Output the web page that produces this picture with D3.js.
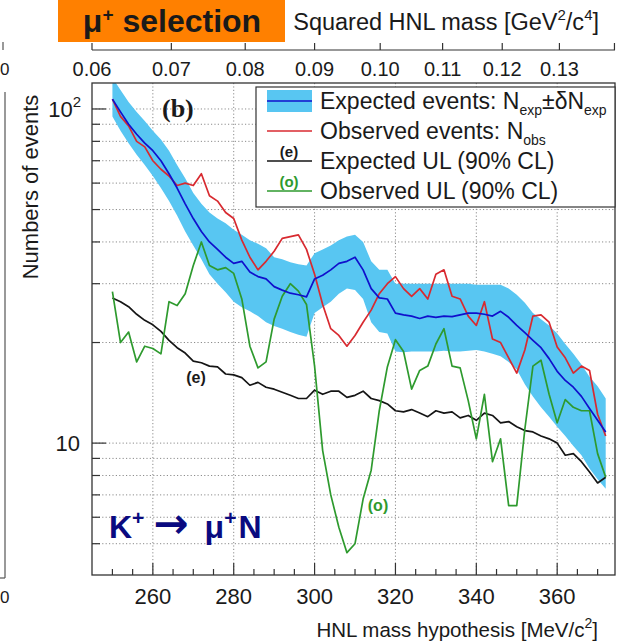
<!DOCTYPE html>
<html>
<head>
<meta charset="utf-8">
<script src="https://cdn.jsdelivr.net/npm/d3@7"></script>
<style>
  body { margin: 0; background: #fff; }
  svg { display: block; }
  text { font-family: "Liberation Sans", Arial, Helvetica, sans-serif; fill: #1a1a1a; }
  .grid line { stroke: #8c8c8c; stroke-width: 1; stroke-dasharray: 1.2 2.2; }
  .tick-mark { stroke: #333; stroke-width: 1.2; }
  .curve { fill: none; stroke-width: 1.7; stroke-linejoin: round; }
</style>
</head>
<body>
<script>
// HNL mass points (MeV/c^2)
const mass = [250,252,254,256,258,260,262,264,266,268,270,272,274,276,278,280,282,284,286,288,
  290,292,294,296,298,300,302,304,306,308,310,312,314,316,318,320,322,324,326,328,
  330,332,334,336,338,340,342,344,346,348,350,352,354,356,358,360,362,364,366,368,370,372];

// expected number of events N_exp and its +/- band
const nExp = [107,98,90,84,79,75,70,64,58,52,47,43,40,38,36,34.5,35,32.5,31.5,31,
  29.4,28.7,28.1,27.8,27.4,31,31.8,33,34.5,35,36,33,29,27.2,27,24.5,24.2,24,23.6,24,
  23.8,24,23.9,24.2,24.5,24.5,24.3,24,24.8,23.8,22.5,21.4,20.3,19.3,17.9,16.4,15.4,14.7,13.8,12.7,11.7,10.8];
const nExpHi = [124,114,105,98,92,86,81,75,68,62,56,52,49,47,45.5,43.5,42,40.5,39.5,38.3,
  36,35.5,34.8,34.3,34,37,38,39,40.5,41.5,42,40,35,33,33,30,30,30,30,30,
  30,30,30,30,30,29.8,29.8,29.8,29.8,29,27.8,26.3,24.5,23.5,22.5,21.3,19.8,18.5,17.2,15.8,14.8,13.6];
const nExpLo = [95,86,79,73,68,63,58,53,48,43,39,35.5,32,30,28.3,26.5,25.5,24.8,24,23,
  22.4,22,21.5,21.1,20.8,24.5,25.5,26.5,28,29,28.7,27,23,21.5,21.3,18.8,18.7,18.8,18.8,18.8,
  18.8,18.9,18.8,18.8,18.9,19,18.8,18.5,18.2,17.5,16.6,15,13.8,12.8,12,11.2,10.5,9.8,9.2,8.4,7.8,7.3];

// observed number of events N_obs
const nObs = [107,95,89,80,77,70,66,63,59,60,59,64,55,53,49,47,40.5,36,33,35,
  37.5,41,41.5,42,38,32,26,22,21,19.5,21,23,25,28,30,31.5,29,27.5,29,27,
  32,33,27.5,27,24,22.5,26.5,20.5,20,18,16.2,19,24,24.2,23,19.4,18,16.2,17,16.5,12.2,10.5];

// expected and observed upper limits, 90% CL
const ulExp = [27.2,26.5,25.6,24.3,23.3,22.6,21.6,20.3,19.3,18.6,17.6,17.4,17,16.9,16.1,16,15.7,14.9,15.2,14.7,
  14.5,14.2,13.9,13.6,13.6,14.4,14,14.3,14.3,13.7,13.9,14.3,13.6,13.4,13.1,12.5,12.4,12.6,12.3,12,
  12.5,12.3,12.4,11.9,12.1,11.7,12.3,12.1,11.5,11.6,11.2,10.9,10.8,10.5,10.3,10,9.2,9.3,8.8,8.2,7.6,7.9];
const ulObs = [28.4,20,21.5,17.5,19.5,19.2,18.5,26.5,25.8,28,34,40,34,33,33.5,32.2,27,19.5,16.8,17.5,
  23.5,27.5,30,28.5,26,17,9.5,7,5.6,4.7,5,6.8,8.3,12.5,16.9,20.4,18.8,14.5,16.5,17,
  19.8,22,17,16.8,13.4,10.3,14,8.8,10.3,6.5,6.5,11,17,17.7,14,11.5,13.5,12.8,12.5,12.5,9.3,7.9];

// axis ticks
const xMajor = [260,280,300,320,340,360];
const xMinor = [250,255,260,265,270,275,280,285,290,295,300,305,310,315,320,325,330,335,340,345,350,355,360,365,370];
const yGrid = [5,6,7,8,9,10,20,30,40,50,60,70,80,90,100];
const m2Ticks = [0.06,0.07,0.08,0.09,0.10,0.11,0.12,0.13,0.14];
const m2Labels = ["0.06","0.07","0.08","0.09","0.10","0.11","0.12","0.13"];

const colBand = "#58c6f2", colExp = "#1010cc", colObs = "#d82a30",
      colUlExp = "#151515", colUlObs = "#2e9a2e";

const W = 618, H = 641;
const pL = 92, pR = 615, pT = 83, pB = 575;

const svg = d3.select("body").append("svg").attr("width", W).attr("height", H);

const x = d3.scaleLinear().domain([244.95, 374.3]).range([pL, pR]);
const y = d3.scaleLog().domain([4.03, 119.6]).range([pB, pT]);

svg.append("clipPath").attr("id", "plot")
  .append("rect").attr("x", pL).attr("y", pT).attr("width", pR - pL).attr("height", pB - pT);

// neighbouring panel edge on the far left
svg.append("line").attr("x1", 5).attr("x2", 5).attr("y1", 92).attr("y2", 578)
  .attr("stroke", "#555").attr("stroke-width", 1.2);
svg.append("line").attr("x1", 0).attr("x2", 5).attr("y1", 578).attr("y2", 578)
  .attr("stroke", "#555").attr("stroke-width", 1.2);
svg.append("line").attr("x1", 3).attr("x2", 3).attr("y1", 42).attr("y2", 50)
  .attr("stroke", "#555").attr("stroke-width", 1.2);
svg.append("text").attr("x", 0).attr("y", 75).attr("font-size", 17).text("0");
svg.append("text").attr("x", 0).attr("y", 603).attr("font-size", 17).text("0");

// grid
const grid = svg.append("g").attr("class", "grid");
grid.selectAll(".gx").data(xMajor).join("line")
  .attr("x1", d => x(d)).attr("x2", d => x(d)).attr("y1", pT).attr("y2", pB);
grid.selectAll(".gy").data(yGrid).join("line")
  .attr("x1", pL).attr("x2", pR).attr("y1", d => y(d)).attr("y2", d => y(d));

// curves
const plot = svg.append("g").attr("clip-path", "url(#plot)");
const idx = d3.range(mass.length);

plot.append("path").datum(idx)
  .attr("fill", colBand)
  .attr("d", d3.area().x(i => x(mass[i])).y0(i => y(nExpLo[i])).y1(i => y(nExpHi[i])));

function curve(values, color) {
  plot.append("path").datum(idx).attr("class", "curve").attr("stroke", color)
    .attr("d", d3.line().x(i => x(mass[i])).y(i => y(values[i])));
}
curve(ulExp, colUlExp);
curve(ulObs, colUlObs);
curve(nObs, colObs);
curve(nExp, colExp);

// frame
svg.append("rect").attr("x", pL).attr("y", pT).attr("width", pR - pL).attr("height", pB - pT)
  .attr("fill", "none").attr("stroke", "#333").attr("stroke-width", 1.3);

// bottom axis ticks
svg.selectAll(".xt").data(xMinor).join("line").attr("class", "tick-mark")
  .attr("x1", d => x(d)).attr("x2", d => x(d))
  .attr("y1", pB).attr("y2", d => pB - (xMajor.includes(d) ? 12 : 6));
svg.selectAll(".xl").data(xMajor).join("text")
  .attr("x", d => x(d)).attr("y", 604).attr("text-anchor", "middle").attr("font-size", 22)
  .text(d => d);

// left axis ticks
svg.selectAll(".yt").data(yGrid).join("line").attr("class", "tick-mark")
  .attr("y1", d => y(d)).attr("y2", d => y(d))
  .attr("x1", pL).attr("x2", d => pL + (d === 10 || d === 100 ? 14 : 8));
svg.append("text").attr("x", 80).attr("y", y(10) + 8).attr("text-anchor", "end").attr("font-size", 22).text("10");
const t100 = svg.append("text").attr("x", 81).attr("y", y(100) + 8).attr("text-anchor", "end").attr("font-size", 22);
t100.append("tspan").text("10");
t100.append("tspan").attr("font-size", 15).attr("dy", -10).text("2");

svg.append("text").attr("transform", `translate(38,187) rotate(-90)`)
  .attr("text-anchor", "middle").attr("font-size", 22).text("Numbers of events");

const xt = svg.append("text").attr("x", 598).attr("y", 637).attr("text-anchor", "end").attr("font-size", 20.5);
xt.append("tspan").text("HNL mass hypothesis [MeV/c");
xt.append("tspan").attr("font-size", 14).attr("dy", -9).text("2");
xt.append("tspan").attr("dy", 9).text("]");

// top axis: squared mass
const topY = 50;
svg.append("line").attr("x1", pL).attr("x2", pR).attr("y1", topY).attr("y2", topY)
  .attr("stroke", "#333").attr("stroke-width", 1.2);
svg.selectAll(".m2t").data(m2Ticks).join("line").attr("class", "tick-mark")
  .attr("x1", d => x(Math.sqrt(d) * 1000)).attr("x2", d => x(Math.sqrt(d) * 1000))
  .attr("y1", topY).attr("y2", topY - 7);
svg.selectAll(".m2l").data(m2Labels).join("text")
  .attr("x", d => x(Math.sqrt(+d) * 1000)).attr("y", 76).attr("text-anchor", "middle").attr("font-size", 20)
  .text(d => d);
const tt = svg.append("text").attr("x", 599).attr("y", 30).attr("text-anchor", "end").attr("font-size", 23.5);
tt.append("tspan").text("Squared HNL mass [GeV");
tt.append("tspan").attr("font-size", 15).attr("dy", -10).text("2");
tt.append("tspan").attr("dy", 10).text("/c");
tt.append("tspan").attr("font-size", 15).attr("dy", -10).text("4");
tt.append("tspan").attr("dy", 10).text("]");

// selection tag
svg.append("rect").attr("x", 58).attr("y", 0).attr("width", 227).attr("height", 42).attr("fill", "#ff8000");
const sel = svg.append("text").attr("x", 172).attr("y", 32).attr("text-anchor", "middle")
  .attr("font-size", 32).attr("font-weight", "bold");
sel.append("tspan").text("\u03bc");
sel.append("tspan").attr("font-size", 19).attr("dy", -11).text("+");
sel.append("tspan").attr("dy", 11).text(" selection");

// panel label and curve tags
svg.append("text").attr("x", 162).attr("y", 117).attr("font-size", 26).attr("font-weight", "bold")
  .style("font-family", "'Liberation Serif', 'Times New Roman', serif").text("(b)");
svg.append("text").attr("x", 196).attr("y", 383).attr("text-anchor", "middle").attr("font-size", 16)
  .attr("font-weight", "bold").text("(e)");
svg.append("text").attr("x", 378).attr("y", 511).attr("text-anchor", "middle").attr("font-size", 16)
  .attr("font-weight", "bold").style("fill", colUlObs).text("(o)");

const dec = svg.append("text").attr("x", 109).attr("y", 538).attr("font-size", 32).attr("font-weight", "bold")
  .style("fill", "#0a0a80");
dec.append("tspan").text("K");
dec.append("tspan").attr("font-size", 21).attr("dy", -13).text("+");
dec.append("tspan").attr("dy", 13).attr("dx", 9).attr("font-size", 42)
  .style("font-family", "'DejaVu Sans', sans-serif").text("\u2192");
dec.append("tspan").attr("dx", 16).text("\u03bc");
dec.append("tspan").attr("font-size", 21).attr("dy", -13).text("+");
dec.append("tspan").attr("dy", 13).attr("dx", 2).text("N");

// legend
const lg = svg.append("g");
lg.append("rect").attr("x", 256).attr("y", 87).attr("width", 359).attr("height", 120)
  .attr("fill", "#fff").attr("stroke", "#333").attr("stroke-width", 1.2);
const lx0 = 267, lx1 = 312, tx = 320;
const rows = [101, 131, 161, 191];
lg.append("rect").attr("x", lx0).attr("y", rows[0] - 11).attr("width", lx1 - lx0).attr("height", 22).attr("fill", colBand);
[[colExp, 0], [colObs, 1], [colUlExp, 2], [colUlObs, 3]].forEach(([c, i]) => {
  lg.append("line").attr("x1", lx0).attr("x2", lx1).attr("y1", rows[i]).attr("y2", rows[i])
    .attr("stroke", c).attr("stroke-width", 1.7);
});
lg.append("text").attr("x", 289).attr("y", rows[2] - 4).attr("text-anchor", "middle").attr("font-size", 15)
  .attr("font-weight", "bold").text("(e)");
lg.append("text").attr("x", 289).attr("y", rows[3] - 4).attr("text-anchor", "middle").attr("font-size", 15)
  .attr("font-weight", "bold").style("fill", colUlObs).text("(o)");

const l1 = lg.append("text").attr("x", tx).attr("y", rows[0] + 8).attr("font-size", 23);
l1.append("tspan").text("Expected events: N");
l1.append("tspan").attr("font-size", 14).attr("dy", 6).text("exp");
l1.append("tspan").attr("dy", -6).text("\u00b1\u03b4N");
l1.append("tspan").attr("font-size", 14).attr("dy", 6).text("exp");
const l2 = lg.append("text").attr("x", tx).attr("y", rows[1] + 8).attr("font-size", 23);
l2.append("tspan").text("Observed events: N");
l2.append("tspan").attr("font-size", 14).attr("dy", 6).text("obs");
lg.append("text").attr("x", tx).attr("y", rows[2] + 8).attr("font-size", 23).text("Expected UL (90% CL)");
lg.append("text").attr("x", tx).attr("y", rows[3] + 8).attr("font-size", 23).text("Observed UL (90% CL)");
</script>
</body>
</html>
